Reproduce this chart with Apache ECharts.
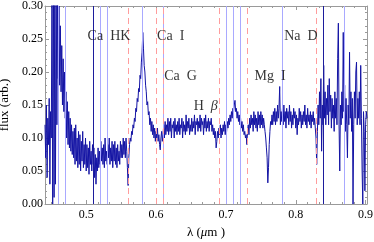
<!DOCTYPE html>
<html><head><meta charset="utf-8">
<script src="https://cdn.jsdelivr.net/npm/echarts@6/dist/echarts.min.js"></script>
<style>html,body{margin:0;padding:0;background:#fff}#c{width:374px;height:242px}</style>
</head><body><div id="c"></div>
<script>
const wavelength = [
0.441,0.442,0.443,0.444,0.445,0.446,0.447,0.448,0.449,0.450,
0.451,0.452,0.453,0.454,0.455,0.456,0.457,0.458,0.459,0.460,
0.461,0.462,0.463,0.464,0.465,0.466,0.467,0.468,0.469,0.470,
0.471,0.472,0.473,0.474,0.475,0.476,0.477,0.478,0.479,0.480,
0.481,0.482,0.483,0.484,0.485,0.486,0.487,0.488,0.489,0.490,
0.491,0.492,0.493,0.494,0.495,0.496,0.497,0.498,0.499,0.500,
0.501,0.502,0.503,0.504,0.505,0.506,0.507,0.508,0.509,0.510,
0.511,0.512,0.513,0.514,0.515,0.516,0.517,0.518,0.519,0.520,
0.521,0.522,0.523,0.524,0.525,0.526,0.527,0.528,0.529,0.530,
0.531,0.532,0.533,0.534,0.535,0.536,0.537,0.538,0.539,0.540,
0.541,0.542,0.543,0.544,0.545,0.546,0.547,0.548,0.549,0.550,
0.551,0.552,0.553,0.554,0.555,0.556,0.557,0.558,0.559,0.560,
0.561,0.562,0.563,0.564,0.565,0.566,0.567,0.568,0.569,0.570,
0.571,0.572,0.573,0.574,0.575,0.576,0.577,0.578,0.579,0.580,
0.581,0.582,0.583,0.584,0.585,0.586,0.587,0.588,0.589,0.590,
0.591,0.592,0.593,0.594,0.595,0.596,0.597,0.598,0.599,0.600,
0.601,0.602,0.603,0.604,0.605,0.606,0.607,0.608,0.609,0.610,
0.611,0.612,0.613,0.614,0.615,0.616,0.617,0.618,0.619,0.620,
0.621,0.622,0.623,0.624,0.625,0.626,0.627,0.628,0.629,0.630,
0.631,0.632,0.633,0.634,0.635,0.636,0.637,0.638,0.639,0.640,
0.641,0.642,0.643,0.644,0.645,0.646,0.647,0.648,0.649,0.650,
0.651,0.652,0.653,0.654,0.655,0.656,0.657,0.658,0.659,0.660,
0.661,0.662,0.663,0.664,0.665,0.666,0.667,0.668,0.669,0.670,
0.671,0.672,0.673,0.674,0.675,0.676,0.677,0.678,0.679,0.680,
0.681,0.682,0.683,0.684,0.685,0.686,0.687,0.688,0.689,0.690,
0.691,0.692,0.693,0.694,0.695,0.696,0.697,0.698,0.699,0.700,
0.701,0.702,0.703,0.704,0.705,0.706,0.707,0.708,0.709,0.710,
0.711,0.712,0.713,0.714,0.715,0.716,0.717,0.718,0.719,0.720,
0.721,0.722,0.723,0.724,0.725,0.726,0.727,0.728,0.729,0.730,
0.731,0.732,0.733,0.734,0.735,0.736,0.737,0.738,0.739,0.740,
0.741,0.742,0.743,0.744,0.745,0.746,0.747,0.748,0.749,0.750,
0.751,0.752,0.753,0.754,0.755,0.756,0.757,0.758,0.759,0.760,
0.761,0.762,0.763,0.764,0.765,0.766,0.767,0.768,0.769,0.770,
0.771,0.772,0.773,0.774,0.775,0.776,0.777,0.778,0.779,0.780,
0.781,0.782,0.783,0.784,0.785,0.786,0.787,0.788,0.789,0.790,
0.791,0.792,0.793,0.794,0.795,0.796,0.797,0.798,0.799,0.800,
0.801,0.802,0.803,0.804,0.805,0.806,0.807,0.808,0.809,0.810,
0.811,0.812,0.813,0.814,0.815,0.816,0.817,0.818,0.819,0.820,
0.821,0.822,0.823,0.824,0.825,0.826,0.827,0.828,0.829,0.830,
0.831,0.832,0.833,0.834,0.835,0.836,0.837,0.838,0.839,0.840,
0.841,0.842,0.843,0.844,0.845,0.846,0.847,0.848,0.849,0.850,
0.851,0.852,0.853,0.854,0.855,0.856,0.857,0.858,0.859,0.860,
0.861,0.862,0.863,0.864,0.865,0.866,0.867,0.868,0.869,0.870,
0.871,0.872,0.873,0.874,0.875,0.876,0.877,0.878,0.879,0.880,
0.881,0.882,0.883,0.884,0.885,0.886,0.887,0.888,0.889,0.890,
0.891,0.892,0.893,0.894,0.895,0.896,0.897,0.898,0.899,0.900,
0.901,0.902
];
const flux = [
0.12,0.07,0.15,0.04,0.13,0.09,0.16,0.03,0.14,0.10,
0.32,0.00,0.35,0.01,0.34,0.03,0.33,0.12,0.31,0.19,
0.30,0.18,0.27,0.17,0.24,0.15,0.22,0.14,0.20,0.13,
0.17,0.10,0.155,0.09,0.14,0.085,0.13,0.08,0.12,0.075,
0.11,0.07,0.115,0.06,0.12,0.065,0.10,0.055,0.11,0.06,
0.105,0.05,0.095,0.065,0.11,0.055,0.09,0.06,0.10,0.05,
0.09,0.055,0.085,0.045,0.095,0.06,0.08,0.05,0.09,0.06,
0.085,0.04,0.075,0.03,0.07,0.05,0.085,0.055,0.08,0.06,
0.095,0.065,0.085,0.06,0.09,0.055,0.10,0.065,0.08,0.06,
0.09,0.07,0.10,0.06,0.085,0.065,0.095,0.055,0.09,0.065,
0.095,0.06,0.085,0.055,0.09,0.065,0.08,0.06,0.095,0.07,
0.09,0.07,0.10,0.075,0.095,0.07,0.10,0.08,0.055,0.028,
0.07,0.09,0.10,0.095,0.11,0.105,0.12,0.115,0.13,0.125,
0.145,0.14,0.16,0.155,0.175,0.17,0.195,0.19,0.215,0.23,
0.26,0.235,0.21,0.20,0.18,0.17,0.15,0.155,0.135,0.14,
0.12,0.13,0.11,0.125,0.105,0.12,0.10,0.115,0.095,0.11,
0.10,0.115,0.095,0.105,0.09,0.082,0.10,0.11,0.095,0.105,
0.12,0.10,0.125,0.105,0.12,0.11,0.13,0.105,0.125,0.11,
0.13,0.10,0.12,0.115,0.125,0.10,0.13,0.11,0.12,0.105,
0.125,0.11,0.13,0.105,0.12,0.115,0.13,0.10,0.125,0.11,
0.12,0.105,0.135,0.11,0.125,0.115,0.13,0.105,0.12,0.11,
0.13,0.11,0.125,0.115,0.135,0.105,0.125,0.12,0.13,0.11,
0.125,0.115,0.135,0.11,0.13,0.12,0.125,0.105,0.13,0.115,
0.135,0.11,0.125,0.115,0.13,0.11,0.125,0.12,0.13,0.11,
0.12,0.105,0.115,0.10,0.11,0.085,0.095,0.11,0.10,0.115,
0.105,0.12,0.10,0.115,0.105,0.12,0.11,0.125,0.105,0.12,
0.11,0.125,0.115,0.13,0.12,0.135,0.125,0.14,0.13,0.145,
0.14,0.15,0.157,0.14,0.145,0.13,0.14,0.125,0.135,0.12,
0.13,0.115,0.125,0.11,0.12,0.105,0.11,0.10,0.105,0.09,
0.11,0.12,0.105,0.13,0.115,0.135,0.12,0.13,0.11,0.14,
0.12,0.135,0.115,0.13,0.11,0.14,0.12,0.135,0.115,0.14,
0.12,0.135,0.115,0.13,0.12,0.11,0.10,0.085,0.07,0.032,
0.055,0.09,0.11,0.125,0.12,0.135,0.12,0.14,0.125,0.145,
0.12,0.14,0.125,0.15,0.13,0.145,0.178,0.12,0.14,0.125,
0.145,0.12,0.15,0.125,0.14,0.115,0.145,0.13,0.14,0.12,
0.15,0.125,0.14,0.115,0.135,0.12,0.145,0.13,0.14,0.115,
0.135,0.105,0.13,0.12,0.145,0.125,0.14,0.115,0.135,0.12,
0.14,0.125,0.15,0.12,0.135,0.115,0.145,0.125,0.135,0.12,
0.14,0.115,0.135,0.125,0.14,0.12,0.13,0.115,0.10,0.06,
0.11,0.15,0.12,0.17,0.13,0.19,0.08,0.15,0.12,0.21,
0.13,0.17,0.12,0.16,0.135,0.18,0.12,0.19,0.14,0.165,
0.115,0.16,0.13,0.15,0.11,0.17,0.13,0.16,0.12,0.22,
0.274,0.12,0.05,0.15,0.12,0.17,0.13,0.26,0.14,0.18,
0.11,0.16,0.12,0.07,0.15,0.12,0.23,0.13,0.17,0.11,
0.16,0.00,0.12,0.17,0.13,0.20,0.215,0.12,0.16,0.13,
0.17,0.12,0.21,0.13,0.05,0.00,0.14,0.11,0.02,0.12,
0.14,0.13
];
const xTickLabels = [0.5, 0.6, 0.7, 0.8, 0.9];
const yTickLabels = [0, 0.05, 0.10, 0.15, 0.20, 0.25, 0.30];
const blueLines = [0.4581,0.4661,0.5243,0.5276,0.5814,0.6147,0.6953,0.7096,0.7129,0.7176,0.7210,0.7796,0.8714];
const redLines = [0.5557,0.5604,0.5967,0.6076,0.6857,0.7296,0.8296];
const darkLines = [0.5139,0.8353];
const lineNames = ['Ca  HK','Ca  I','Ca  G','H  β','Mg  I','Na  D'];
const lineNameX = [0.5326,0.6210,0.6350,0.6711,0.7633,0.8074];
const lineNameY = [0.2545,0.2545,0.194,0.1485,0.194,0.2545];

const serif = 'Liberation Serif';
const xMin = 0.441, xMax = 0.902;
const frameColor = '#9a9a9a';
// minor tick positions every 1/6 of a major step
const xMinor = [];
for (let k = Math.ceil(xMin * 60); k <= Math.floor(xMax * 60); k++) {
  if (k % 6 !== 0) xMinor.push(k / 60);
}

const chart = echarts.init(document.getElementById('c'), null, {renderer: 'canvas'});

function xAx(pos, ticks, len, withLabel, withLine) {
  return {
    type: 'value', min: xMin, max: xMax, position: pos,
    axisLine: {show: withLine, onZero: false, lineStyle: {color: frameColor, width: 1}},
    axisTick: {show: true, inside: true, length: len, customValues: ticks, lineStyle: {color: frameColor, width: 1}},
    axisLabel: withLabel ? {show: true, customValues: xTickLabels, formatter: v => Number(v).toFixed(1),
      color: '#000', fontFamily: serif, fontSize: 12, margin: 5} : {show: false},
    splitLine: {show: false}
  };
}
function yAx(pos, withLabel) {
  return {
    type: 'value', min: 0, max: 0.3, interval: 0.05, position: pos,
    axisLine: {show: true, onZero: false, lineStyle: {color: frameColor, width: 1}},
    axisTick: {show: true, inside: true, length: 4, lineStyle: {color: frameColor, width: 1}},
    minorTick: {show: true, splitNumber: 5, length: 2, lineStyle: {color: frameColor, width: 1}},
    axisLabel: withLabel ? {show: true, customValues: yTickLabels, formatter: v => Number(v).toFixed(2),
      color: '#000', fontFamily: serif, fontSize: 12, margin: 2} : {show: false},
    splitLine: {show: false}
  };
}

const xBottom = xAx('bottom', xTickLabels, 4, true, true);
xBottom.name = '{n|λ (}{i|μ}{n|m )}';
xBottom.nameLocation = 'middle';
xBottom.nameGap = 21;
xBottom.nameTextStyle = {fontFamily: serif, fontSize: 13, color: '#000',
  rich: {n: {fontFamily: serif, fontSize: 13, color: '#000'}, i: {fontFamily: serif, fontSize: 13, fontStyle: 'italic', color: '#000'}}};

const yLeft = yAx('left', true);
yLeft.name = 'flux (arb.)';
yLeft.nameLocation = 'middle';
yLeft.nameGap = 31;
yLeft.nameTextStyle = {fontFamily: serif, fontSize: 13, color: '#000'};

const markLineData = []
  .concat(blueLines.map(x => ({xAxis: x, lineStyle: {color: '#a9a9ff', width: 1, type: 'solid'}})))
  .concat(redLines.map(x => ({xAxis: x, lineStyle: {color: '#ff9d9d', width: 1, type: [6, 4]}})))
  .concat(darkLines.map(x => ({xAxis: x, lineStyle: {color: '#1c1c9c', width: 1, type: 'solid'}})));

chart.setOption({
  animation: false,
  backgroundColor: '#fff',
  grid: {left: 45, right: 7, top: 6, bottom: 38, containLabel: false, outerBoundsMode: 'none'},
  xAxis: [
    xBottom,
    xAx('bottom', xMinor, 2, false, false),
    xAx('top', xTickLabels, 4, false, true),
    xAx('top', xMinor, 2, false, false)
  ],
  yAxis: [yLeft, yAx('right', false)],
  series: [
    {
      type: 'line', data: [], xAxisIndex: 0, yAxisIndex: 0, z: 1, silent: true,
      markLine: {silent: true, symbol: ['none', 'none'], label: {show: false}, animation: false, data: markLineData}
    },
    {
      type: 'line', xAxisIndex: 0, yAxisIndex: 0, z: 3, silent: true,
      data: wavelength.map((w, i) => [w, flux[i]]),
      showSymbol: false, symbol: 'none', clip: true,
      lineStyle: {color: '#1414a4', width: 1}
    },
    {
      type: 'scatter', xAxisIndex: 0, yAxisIndex: 0, z: 4, zlevel: 1, silent: true,
      symbolSize: 1, itemStyle: {color: 'rgba(0,0,0,0)'},
      data: lineNames.map((n, i) => ({name: n, value: [lineNameX[i], lineNameY[i]]})),
      label: {
        show: true, position: 'inside', align: 'center', verticalAlign: 'middle',
        fontFamily: serif, fontSize: 14, color: '#000',
        formatter: p => p.name.replace(/([α-ω])/g, '{i|$1}'),
        rich: {i: {fontFamily: serif, fontSize: 14, fontStyle: 'italic', color: '#000'}}
      }
    }
  ]
});
</script></body></html>
